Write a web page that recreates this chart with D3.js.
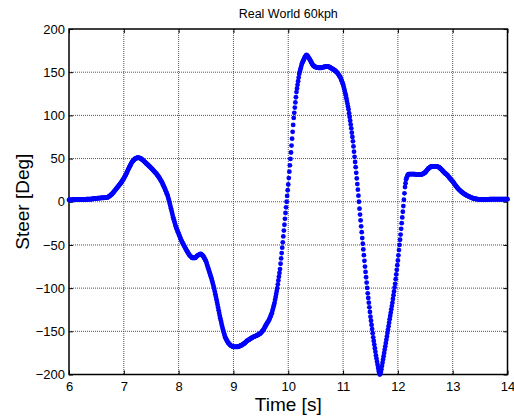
<!DOCTYPE html>
<html>
<head>
<meta charset="utf-8">
<script src="https://cdn.jsdelivr.net/npm/d3@7"></script>
<style>
body { margin: 0; background: #fff; }
text { font-family: "Liberation Sans", Arial, sans-serif; fill: #000; }
</style>
</head>
<body>
<svg id="chart" width="514" height="418"></svg>
<script>
// textos del grafico
var titulo = "Real World 60kph";
var etiquetaX = "Time [s]";
var etiquetaY = "Steer [Deg]";

// marcas de los ejes
var ticksX = [6, 7, 8, 9, 10, 11, 12, 13, 14];
var ticksY = [-200, -150, -100, -50, 0, 50, 100, 150, 200];

// muestreo: empieza en 6 s, una muestra cada 0.01 s
var t0 = 6;
var dt = 0.01;

// angulo de volante (grados), una fila = 0.1 s
var steer = [
  2,2,2,2.1,2.1,2.2,2.2,2.2,2.3,2.3,
  2.3,2.3,2.4,2.4,2.4,2.5,2.5,2.5,2.5,2.5,
  2.5,2.5,2.6,2.6,2.6,2.7,2.7,2.7,2.8,2.8,
  2.8,2.8,2.9,2.9,2.9,3,3,3,3,3,
  3,3.1,3.2,3.3,3.4,3.5,3.6,3.7,3.8,3.9,
  4,4,4.1,4.1,4.2,4.2,4.3,4.3,4.4,4.4,
  4.5,4.5,4.5,4.6,4.6,4.7,4.7,4.8,4.8,4.9,
  5,5.3,5.7,6.2,6.6,7,7.6,8.2,8.8,9.4,
  10,10.8,11.6,12.4,13.2,14,14.8,15.6,16.4,17.2,
  18,18.8,19.6,20.4,21.2,22,23,24,25,26,
  27,28.2,29.4,30.6,31.8,33,34.4,35.8,37.2,38.6,
  40,41.2,42.4,43.6,44.8,46,46.7,47.4,48.1,48.8,
  49.5,49.8,50.1,50.4,50.7,51,51,50.9,50.8,50.6,
  50.5,50,49.5,49,48.5,48,47.4,46.8,46.2,45.6,
  45,44.4,43.8,43.2,42.6,42,41.4,40.8,40.2,39.6,
  39,38.3,37.6,36.9,36.2,35.5,34.8,34.1,33.4,32.7,
  32,31.1,30.2,29.3,28.4,27.5,26.4,25.3,24.2,23.1,
  22,20.6,19.2,17.8,16.4,15,13.4,11.8,10.2,8.6,
  7,4.7,2.3,0,-2.5,-5,-7.6,-10.2,-12.8,-15.4,
  -18,-20.2,-22.4,-24.6,-26.8,-29,-30.6,-32.2,-33.8,-35.4,
  -37,-38.6,-40.2,-41.8,-43.4,-45,-46.2,-47.4,-48.6,-49.8,
  -51,-52.2,-53.4,-54.6,-55.8,-57,-58,-59,-60,-61,
  -62,-62.6,-63.2,-63.8,-64.4,-65,-65,-65,-65,-65,
  -65,-64.4,-63.8,-63.2,-62.6,-62,-61.7,-61.4,-61.1,-60.8,
  -60.5,-60.8,-61.3,-61.8,-62.4,-63,-64.2,-65.4,-66.6,-67.8,
  -69,-71,-73,-75,-77,-79,-81,-83,-85,-87,
  -89,-91.4,-93.8,-96.2,-98.6,-101,-104,-107,-110,-113,
  -116,-119.2,-122.4,-125.6,-128.8,-132,-134.8,-137.6,-140.4,-143.2,
  -146,-148.2,-150.4,-152.6,-154.8,-157,-158.2,-159.4,-160.6,-161.8,
  -163,-163.7,-164.4,-165.1,-165.8,-166.5,-166.8,-167.1,-167.4,-167.7,
  -168,-168,-168,-168,-168,-168,-168,-168,-167.9,-167.7,
  -167.5,-167.2,-166.9,-166.6,-166.3,-166,-165.6,-165.2,-164.8,-164.4,
  -164,-163.4,-162.8,-162.2,-161.6,-161,-160.6,-160.2,-159.8,-159.4,
  -159,-158.6,-158.2,-157.8,-157.4,-157,-156.7,-156.4,-156.1,-155.8,
  -155.5,-155.2,-154.9,-154.6,-154.3,-154,-153.6,-153.2,-152.8,-152.4,
  -152,-151.2,-150.4,-149.6,-148.8,-148,-146.8,-145.6,-144.4,-143.2,
  -142,-141,-140,-139,-138,-137,-135.4,-133.8,-132.2,-130.6,
  -129,-126.6,-124.2,-121.8,-119.4,-117,-113.6,-110.2,-106.8,-103.4,
  -100,-95.6,-91.2,-86.8,-82.4,-78,-71.8,-65.6,-59.4,-53.2,
  -47,-40.2,-33.4,-26.6,-19.8,-13,-6.5,0,6.7,13.3,
  20,27.4,34.8,42.2,49.6,57,65,73,81,89,
  97,103,109,115,121,127,131.2,135.4,139.6,143.8,
  148,150.4,152.8,155.2,157.6,160,161.4,162.8,164.2,165.6,
  167,168,169,170,169.5,169,168,167,166,165,
  164,162.8,161.6,160.4,159.2,158,157.5,157,156.5,156,
  156,155.8,155.6,155.4,155.2,155,155,155,155,155,
  155,155.2,155.4,155.6,155.8,156,156.1,156.2,156.3,156.4,
  156.5,156.5,156.4,156.3,156.2,156,155.6,155.2,154.8,154.4,
  154,153.6,153.2,152.8,152.4,152,151.4,150.8,150.2,149.6,
  149,148,147,146,145,144,142.4,140.8,139.2,137.6,
  136,133.4,130.8,128.2,125.6,123,119.8,116.6,113.4,110.2,
  107,102.6,98.2,93.8,89.4,85,80,75,70,64,
  58,52,46,40,33.5,27,20.5,14,7,0,
  -8,-14.8,-21.6,-28.4,-35.2,-42,-48.6,-55.2,-61.8,-68.4,
  -75,-81.2,-87.4,-93.6,-99.8,-106,-111.4,-116.8,-122.2,-127.6,
  -133,-137.8,-142.6,-147.4,-152.2,-157,-161.2,-165.4,-169.6,-173.8,
  -178,-181.6,-185.2,-188.8,-192.4,-196,-198,-200,-199,-197,
  -194,-190.2,-186.4,-182.6,-178.8,-175,-171.2,-167.4,-163.6,-159.8,
  -156,-152,-148,-144,-140,-136,-132.2,-128.4,-124.6,-120.8,
  -117,-112.6,-108.2,-103.8,-99.4,-95,-89.6,-84.2,-78.8,-73.4,
  -68,-62,-56,-50,-44,-38,-31.4,-24.8,-18.2,-11.6,
  -5,2.3,9.7,17,21.5,26,27.7,29.3,31,31.5,
  32,32,32,32,32,32,32,32,32,32,
  32,31.9,31.8,31.8,31.7,31.7,31.6,31.6,31.5,31.5,
  31.5,31.5,31.6,31.7,31.8,32,32.4,32.8,33.2,33.6,
  34,34.8,35.6,36.4,37.2,38,38.5,39,39.5,40,
  40.5,40.6,40.7,40.8,40.9,41,41,41,41,41,
  41,40.8,40.6,40.4,40.2,40,39.4,38.8,38.2,37.6,
  37,36.3,35.6,34.9,34.2,33.5,33,32.5,32,31.5,
  31,30.2,29.4,28.6,27.8,27,26.3,25.6,24.9,24.2,
  23.5,22.6,21.7,20.8,19.9,19,18.2,17.4,16.6,15.8,
  15,14.4,13.8,13.2,12.6,12,11.5,11,10.5,10,
  9.5,9.1,8.7,8.3,7.9,7.5,7.2,6.9,6.6,6.3,
  6,5.7,5.4,5.1,4.8,4.5,4.3,4.1,3.9,3.7,
  3.5,3.4,3.3,3.2,3.1,3,2.9,2.8,2.7,2.6,
  2.5,2.5,2.5,2.5,2.5,2.5,2.5,2.5,2.5,2.5,
  2.5,2.6,2.6,2.7,2.7,2.8,2.8,2.9,2.9,3,
  3,3,3,3,3,3,3,3,3,3,
  3,3,3,3,3,3,3,3,3,3,
  3,3,3,3,3,3,3,3,3,3,
  3
];

var svg = d3.select("#chart");

// area del grafico
var izq = 69, der = 507.5, arriba = 29, abajo = 374.5;

var x = d3.scaleLinear().domain([6, 14]).range([izq, der]);
var y = d3.scaleLinear().domain([-200, 200]).range([abajo, arriba]);

// rejilla punteada
var rejilla = svg.append("g").attr("class", "rejilla");
rejilla.selectAll("line.gx")
  .data(ticksX.slice(1, -1))
  .enter().append("line")
  .attr("class", "gx")
  .attr("x1", function(d) { return x(d); })
  .attr("x2", function(d) { return x(d); })
  .attr("y1", arriba).attr("y2", abajo);
rejilla.selectAll("line.gy")
  .data(ticksY.slice(1, -1))
  .enter().append("line")
  .attr("class", "gy")
  .attr("y1", function(d) { return y(d); })
  .attr("y2", function(d) { return y(d); })
  .attr("x1", izq).attr("x2", der);
rejilla.selectAll("line")
  .attr("stroke", "#555")
  .attr("stroke-width", 1)
  .attr("stroke-dasharray", "1,1");

// ejes con marcas hacia dentro
var ejeAbajo = d3.axisBottom(x).tickValues(ticksX).tickSize(-4).tickPadding(7);
var ejeIzq = d3.axisLeft(y).tickValues(ticksY).tickSize(-4).tickPadding(4);
var ejeArriba = d3.axisTop(x).tickValues(ticksX).tickSize(-4).tickFormat("");
var ejeDer = d3.axisRight(y).tickValues(ticksY).tickSize(-4).tickFormat("");

function estilo(g) {
  g.select(".domain").remove();
  g.selectAll(".tick line").attr("stroke", "#000").attr("stroke-width", 1);
  g.selectAll(".tick text").attr("font-size", "13px").attr("font-family", "Liberation Sans, Arial, sans-serif").attr("fill", "#000");
}

svg.append("g").attr("transform", "translate(0," + abajo + ")").call(ejeAbajo).call(estilo);
svg.append("g").attr("transform", "translate(" + izq + ",0)").call(ejeIzq).call(estilo);
svg.append("g").attr("transform", "translate(0," + arriba + ")").call(ejeArriba).call(estilo);
svg.append("g").attr("transform", "translate(" + der + ",0)").call(ejeDer).call(estilo);

// caja del grafico
svg.append("rect")
  .attr("x", izq).attr("y", arriba)
  .attr("width", der - izq).attr("height", abajo - arriba)
  .attr("fill", "none")
  .attr("stroke", "#000")
  .attr("stroke-width", 1.5);

// puntos de la serie
svg.append("g").selectAll("circle")
  .data(steer)
  .enter().append("circle")
  .attr("cx", function(d, i) { return x(t0 + i * dt); })
  .attr("cy", function(d) { return y(d); })
  .attr("r", 2.4)
  .attr("fill", "#0000ff");

// titulo y etiquetas
svg.append("text")
  .attr("x", (izq + der) / 2).attr("y", 18)
  .attr("text-anchor", "middle")
  .attr("font-size", "12.5px")
  .text(titulo);

svg.append("text")
  .attr("x", (izq + der) / 2).attr("y", 411)
  .attr("text-anchor", "middle")
  .attr("font-size", "19px")
  .text(etiquetaX);

svg.append("text")
  .attr("transform", "translate(29," + (arriba + abajo) / 2 + ") rotate(-90)")
  .attr("text-anchor", "middle")
  .attr("font-size", "19px")
  .text(etiquetaY);
</script>
</body>
</html>
